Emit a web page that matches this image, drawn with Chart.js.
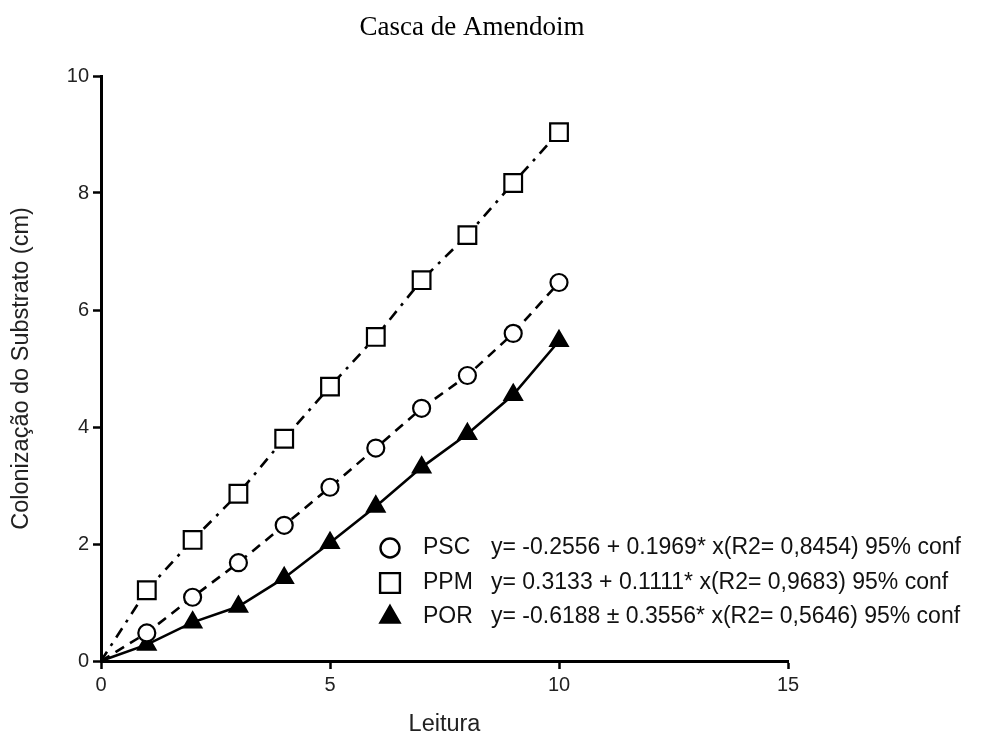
<!DOCTYPE html>
<html>
<head>
<meta charset="utf-8">
<script src="https://cdn.jsdelivr.net/npm/chart.js@4.4.1/dist/chart.umd.min.js"></script>
<style>
  html, body { margin: 0; padding: 0; background: #fff; }
  #wrap { width: 984px; height: 736px; }
</style>
</head>
<body>
<div id="wrap"><canvas id="c" width="984" height="736"></canvas></div>
<script>
// ---- data ----
const leitura = [0, 1, 2, 3, 4, 5, 6, 7, 8, 9, 10];
const psc = [0, 0.48, 1.09, 1.68, 2.32, 2.97, 3.64, 4.32, 4.88, 5.6, 6.47];
const ppm = [0, 1.21, 2.07, 2.86, 3.8, 4.69, 5.54, 6.51, 7.28, 8.17, 9.04];
const por = [0, 0.28, 0.66, 0.93, 1.42, 2.02, 2.64, 3.31, 3.88, 4.55, 5.47];
const seriesNames = ['PSC', 'PPM', 'POR'];
const equations = [
  'y= -0.2556 + 0.1969* x(R2= 0,8454) 95% conf',
  'y= 0.3133 + 0.1111* x(R2= 0,9683) 95% conf',
  'y= -0.6188 \u00b1 0.3556* x(R2= 0,5646) 95% conf'
];
const xTicks = [0, 5, 10, 15];
const yTicks = [0, 2, 4, 6, 8, 10];
const chartTitle = 'Casca de Amendoim';
const xTitle = 'Leitura';
const yTitle = 'Coloniza\u00e7\u00e3o do Substrato (cm)';

function pts(arr) { return leitura.map((x, i) => ({ x: x, y: arr[i] })); }
function radii(r) { return leitura.map(x => x === 0 ? 0 : r); }

const SANS = '"Liberation Sans", Arial, sans-serif';
const SERIF = '"Liberation Serif", "Times New Roman", serif';

const styles = [
  { pointStyle: 'circle', radius: 8.5, legendRadius: 9.5, dash: [10, 7], bg: '#fff' },
  { pointStyle: 'rect', radius: 12.5, legendRadius: 14, dash: [11, 7, 3, 7], bg: '#fff' },
  { pointStyle: 'triangle', radius: 10, legendRadius: 11, dash: [], bg: '#000' }
];

const textPlugin = {
  id: 'textBits',
  afterDraw(chart) {
    const ctx = chart.ctx;
    ctx.save();
    // title
    ctx.fillStyle = '#000';
    ctx.font = '27px ' + SERIF;
    ctx.textAlign = 'center';
    ctx.textBaseline = 'middle';
    ctx.fillText(chartTitle, 472, 28);
    // legend
    const rows = [548, 583, 617];
    ctx.font = '23px ' + SANS;
    rows.forEach((y, i) => {
      const st = styles[i];
      ctx.save();
      ctx.lineWidth = 2.4;
      ctx.strokeStyle = '#000';
      ctx.fillStyle = st.bg;
      Chart.helpers.drawPoint(ctx, { pointStyle: st.pointStyle, radius: st.legendRadius, rotation: 0, borderWidth: 2.4 }, 390, y);
      ctx.restore();
      ctx.fillStyle = '#111';
      ctx.textAlign = 'left';
      ctx.textBaseline = 'middle';
      ctx.fillText(seriesNames[i], 423, y);
      ctx.fillText(equations[i], 491, y);
    });
    ctx.restore();
  }
};

const datasets = [psc, ppm, por].map((arr, i) => ({
  label: seriesNames[i],
  data: pts(arr),
  borderColor: '#000',
  backgroundColor: styles[i].bg,
  borderWidth: 2.6,
  borderDash: styles[i].dash,
  pointStyle: styles[i].pointStyle,
  pointRadius: radii(styles[i].radius),
  pointBorderWidth: 2.2,
  pointBackgroundColor: styles[i].bg,
  pointBorderColor: '#000',
  tension: 0,
  showLine: true,
  fill: false
}));

new Chart(document.getElementById('c'), {
  type: 'scatter',
  data: { datasets: datasets },
  options: {
    responsive: false,
    animation: false,
    events: [],
    layout: { padding: { left: 0, right: 196, top: 76, bottom: 0 } },
    plugins: {
      legend: { display: false },
      tooltip: { enabled: false },
      title: { display: false }
    },
    scales: {
      x: {
        type: 'linear',
        min: 0, max: 15,
        afterFit(s) { s.height = 75; },
        afterBuildTicks(s) { s.ticks = xTicks.map(v => ({ value: v })); },
        border: { display: true, color: '#000', width: 3 },
        grid: { display: true, drawOnChartArea: false, drawTicks: true, tickLength: 8, tickWidth: 2.5, color: '#000' },
        ticks: { color: '#222', padding: 4, font: { family: SANS, size: 20 } },
        title: { display: true, text: xTitle, color: '#222', padding: { top: 0, bottom: 0 }, font: { family: SANS, size: 23.5, lineHeight: 1.0 } }
      },
      y: {
        type: 'linear',
        min: 0, max: 10,
        afterFit(s) { s.width = 101; },
        afterBuildTicks(s) { s.ticks = yTicks.map(v => ({ value: v })); },
        border: { display: true, color: '#000', width: 3 },
        grid: { display: true, drawOnChartArea: false, drawTicks: true, tickLength: 8, tickWidth: 2.5, color: '#000' },
        ticks: { color: '#222', padding: 4, font: { family: SANS, size: 20 } },
        title: { display: true, text: yTitle, color: '#222', padding: { top: 10, bottom: 0 }, font: { family: SANS, size: 23.5, lineHeight: 1.0 } }
      }
    }
  },
  plugins: [textPlugin]
});
</script>
</body>
</html>
